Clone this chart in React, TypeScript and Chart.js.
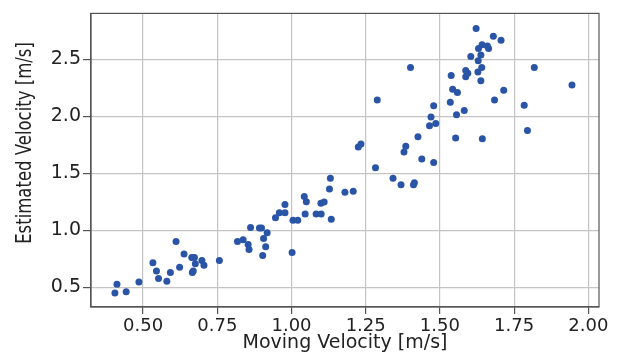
import React, { useEffect, useRef } from "react";
import { Chart, registerables } from "chart.js";

Chart.register(...registerables);

const movingVelocity = [
  0.405, 0.412, 0.443, 0.486, 0.533, 0.545, 0.552, 0.58, 0.592, 0.611,
  0.623, 0.638, 0.664, 0.673, 0.666, 0.669, 0.676, 0.698, 0.705, 0.757,
  0.818, 0.837, 0.854, 0.857, 0.862, 0.892, 0.899, 0.918, 0.906, 0.913,
  0.903, 0.946, 0.959, 0.978, 0.978, 1.002, 1.005, 1.021, 1.043, 1.05,
  1.046, 1.083, 1.1, 1.099, 1.11, 1.128, 1.131, 1.134, 1.18, 1.208,
  1.225, 1.234, 1.283, 1.289, 1.342, 1.369, 1.401, 1.379, 1.385, 1.411,
  1.414, 1.426, 1.439, 1.465, 1.47, 1.486, 1.479, 1.479, 1.535, 1.538,
  1.543, 1.559, 1.553, 1.556, 1.582, 1.587, 1.594, 1.587, 1.604, 1.622,
  1.629, 1.628, 1.638, 1.63, 1.642, 1.641, 1.638, 1.643, 1.66, 1.664,
  1.68, 1.706, 1.684, 1.715, 1.784, 1.795, 1.818, 1.945,
];

const estimatedVelocity = [
  0.448, 0.526, 0.46, 0.546, 0.715, 0.643, 0.577, 0.552, 0.629, 0.901,
  0.675, 0.792, 0.761, 0.761, 0.629, 0.643, 0.706, 0.735, 0.692, 0.735,
  0.901, 0.916, 0.875, 0.83, 1.024, 1.019, 1.019, 0.979, 0.927, 0.856,
  0.778, 1.11, 1.153, 1.225, 1.153, 0.804, 1.088, 1.088, 1.296, 1.25,
  1.142, 1.142, 1.142, 1.236, 1.247, 1.362, 1.457, 1.096, 1.333, 1.342,
  1.732, 1.758, 1.548, 2.144, 1.457, 1.4, 2.43, 1.686, 1.737, 1.4,
  1.417, 1.82, 1.625, 1.918, 1.995, 1.938, 2.093, 1.595, 2.124, 2.359,
  2.239, 2.21, 1.809, 2.015, 2.052, 2.402, 2.379, 2.347, 2.525, 2.772,
  2.488, 2.39, 2.539, 2.596, 2.628, 2.43, 2.313, 1.803, 2.617, 2.596,
  2.703, 2.668, 2.144, 2.23, 2.098, 1.875, 2.43, 2.276,
];

const xTicks = [0.5, 0.75, 1.0, 1.25, 1.5, 1.75, 2.0];
const yTicks = [0.5, 1.0, 1.5, 2.0, 2.5];
const xTitle = "Moving Velocity [m/s]";
const yTitle = "Estimated Velocity [m/s]";

const FONT = '"DejaVu Sans", sans-serif';

export default function App() {
  const ref = useRef<HTMLCanvasElement | null>(null);

  useEffect(() => {
    if (!ref.current) return;
    const points = movingVelocity.map((x, i) => ({ x, y: estimatedVelocity[i] }));

    const framePlugin = {
      id: "frame",
      afterDraw(chart: any) {
        const { ctx, chartArea } = chart;
        ctx.save();
        ctx.strokeStyle = "#555";
        ctx.lineWidth = 1.2;
        ctx.strokeRect(chartArea.left, chartArea.top, chartArea.right - chartArea.left, chartArea.bottom - chartArea.top);
        // rotated y-axis title
        ctx.translate(25, 143);
        ctx.rotate(-Math.PI / 2);
        ctx.scale(0.75, 1);
        ctx.font = `22px ${FONT}`;
        ctx.fillStyle = "#222";
        ctx.textAlign = "center";
        ctx.textBaseline = "middle";
        ctx.fillText(yTitle, 0, 0);
        ctx.restore();
      },
    };

    const chart = new Chart(ref.current, {
      type: "scatter",
      data: {
        datasets: [
          {
            data: points,
            backgroundColor: "#2a55a6",
            borderWidth: 0,
            pointRadius: 3.5,
          },
        ],
      },
      options: {
        animation: false,
        responsive: false,
        maintainAspectRatio: false,
        layout: { padding: { left: 0, right: 26, top: 7, bottom: 0 } },
        plugins: { legend: { display: false }, tooltip: { enabled: false } },
        scales: {
          x: {
            type: "linear",
            min: 0.3245,
            max: 2.036,
            afterBuildTicks: (s: any) => {
              s.ticks = xTicks.map((v) => ({ value: v }));
            },
            afterFit: (s: any) => {
              s.height = 49;
            },
            ticks: {
              callback: (v: any) => Number(v).toFixed(2),
              font: { family: FONT, size: 18 },
              color: "#222",
              padding: 2,
              maxRotation: 0,
            },
            grid: { color: "#c4c4c4", tickColor: "#555", tickLength: 7, lineWidth: 1.2 },
            border: { color: "#555", width: 1.2 },
            title: {
              display: true,
              text: xTitle,
              font: { family: FONT, size: 19 },
              color: "#222",
              padding: { top: 0, bottom: 2 },
            },
          },
          y: {
            type: "linear",
            min: 0.326,
            max: 2.904,
            afterBuildTicks: (s: any) => {
              s.ticks = yTicks.map((v) => ({ value: v }));
            },
            afterFit: (s: any) => {
              s.width = 91;
            },
            ticks: {
              callback: (v: any) => Number(v).toFixed(1),
              font: { family: FONT, size: 19 },
              color: "#222",
              padding: 2,
            },
            grid: { color: "#c4c4c4", tickColor: "#555", tickLength: 8, lineWidth: 1.2 },
            border: { color: "#555", width: 1.2 },
          },
        },
      },
      plugins: [framePlugin],
    } as any);

    return () => chart.destroy();
  }, []);

  return (
    <div style={{ position: "fixed", left: 0, top: 0, width: 625, height: 356, background: "#fff" }}>
      <canvas ref={ref} width={625} height={356} style={{ width: 625, height: 356 }} />
    </div>
  );
}
